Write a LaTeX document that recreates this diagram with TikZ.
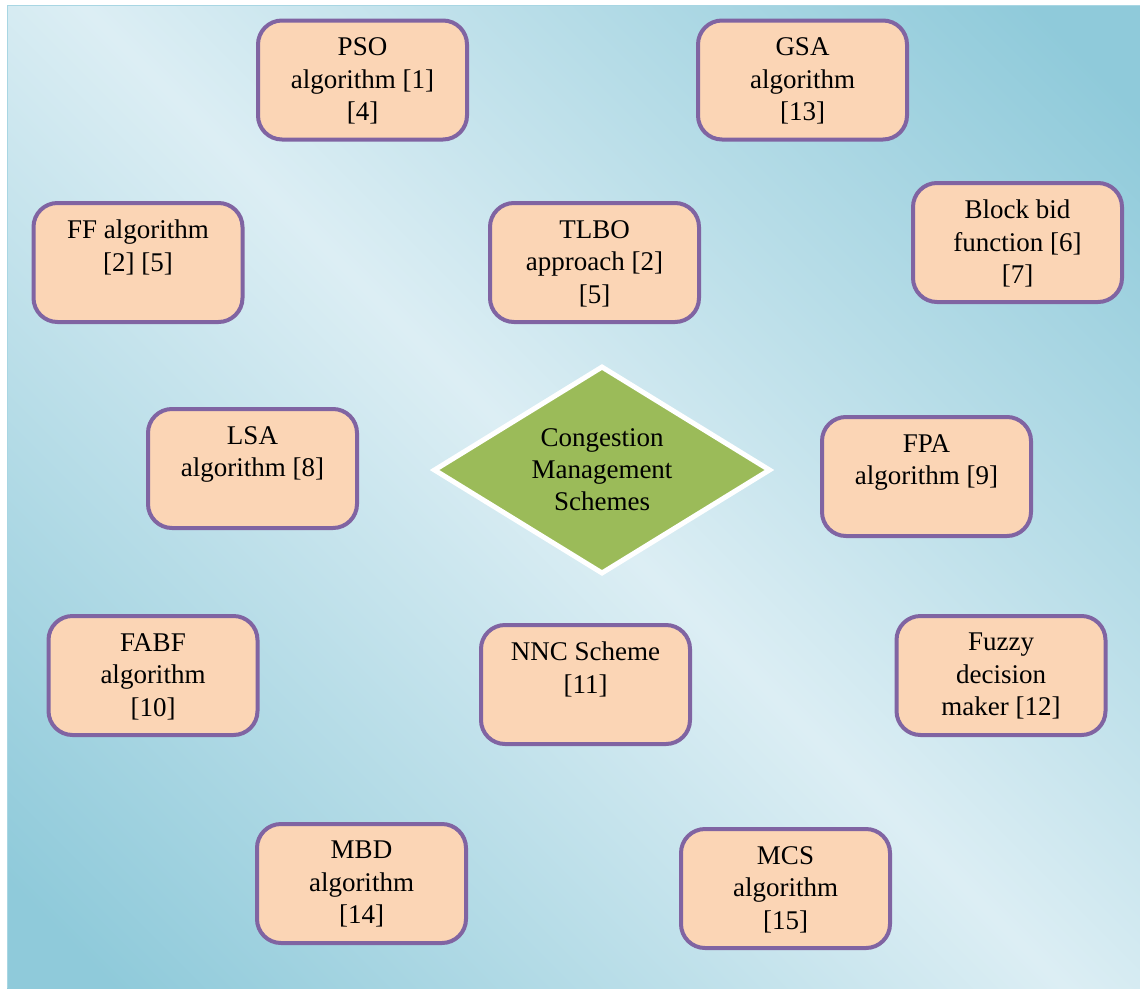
\documentclass[tikz,border=0pt]{standalone}
\usepackage{fontspec}
\setmainfont{Liberation Serif}
\usetikzlibrary{shapes.geometric}
\definecolor{bgdark}{HTML}{8FCADA}
\definecolor{bglight}{HTML}{DCEEF4}
\definecolor{bgedge}{HTML}{A8D6E3}
\definecolor{boxfill}{HTML}{FBD5B5}
\definecolor{boxline}{HTML}{8064A2}
\definecolor{dmdfill}{HTML}{9BBB59}
\pgfdeclarehorizontalshading{bgshade}{100bp}{color(0bp)=(bgdark); color(18bp)=(bgdark); color(50bp)=(bglight); color(82bp)=(bgdark); color(100bp)=(bgdark)}
\begin{document}
\begin{tikzpicture}[x=1pt,y=-1pt,
  box/.style={draw=boxline, line width=4pt, fill=boxfill, rounded corners=24pt,
    minimum width=209pt, minimum height=119pt, inner sep=0pt},
  lbl/.style={anchor=north, align=center, inner sep=0pt, text=black,
    font=\fontsize{27}{32.5}\selectfont},
  hub/.style={shape=diamond, draw=white, line width=5pt, fill=dmdfill,
    minimum width=337pt, minimum height=208pt, inner sep=0pt, shape aspect=1.62,
    align=center, font=\fontsize{27}{32}\selectfont}]
\useasboundingbox (0,0) rectangle (1140,988);
\fill[white] (0,0) rectangle (1140,988);
\shade[shading=bgshade, shading angle=45] (7,5) rectangle (1140,988);
\draw[bgedge, line width=1pt] (7.5,988) -- (7.5,5.5) -- (1140,5.5);

\node[hub] (cms) at (602,470) {Congestion\\Management\\Schemes};

\node[box] (pso) at (362.5,80) {};
\node[lbl] (psot) at ([yshift=-19pt]pso.north) {PSO\\algorithm [1]\\{}[4]};
\node[box] (gsa) at (802.5,80) {};
\node[lbl] (gsat) at ([yshift=-19pt]gsa.north) {GSA\\algorithm\\{}[13]};
\node[box] (ff) at (138,262.5) {};
\node[lbl] (fft) at ([yshift=-19pt]ff.north) {FF algorithm\\{}[2] [5]};
\node[box] (tlbo) at (594.5,262.5) {};
\node[lbl] (tlbot) at ([yshift=-19pt]tlbo.north) {TLBO\\approach [2]\\{}[5]};
\node[box] (bbf) at (1017.5,242.5) {};
\node[lbl] (bbft) at ([yshift=-19pt]bbf.north) {Block bid\\function [6]\\{}[7]};
\node[box] (lsa) at (252.5,468.5) {};
\node[lbl] (lsat) at ([yshift=-19pt]lsa.north) {LSA\\algorithm [8]};
\node[box] (fpa) at (926.5,476.5) {};
\node[lbl] (fpat) at ([yshift=-19pt]fpa.north) {FPA\\algorithm [9]};
\node[box] (fabf) at (153,675.5) {};
\node[lbl] (fabft) at ([yshift=-19pt]fabf.north) {FABF\\algorithm\\{}[10]};
\node[box] (nnc) at (585.5,684.5) {};
\node[lbl] (nnct) at ([yshift=-19pt]nnc.north) {NNC Scheme\\{}[11]};
\node[box] (fdm) at (1001,675.5) {};
\node[lbl] (fdmt) at ([yshift=-19pt]fdm.north) {Fuzzy\\decision\\maker [12]};
\node[box] (mbd) at (361.5,883.5) {};
\node[lbl] (mbdt) at ([yshift=-19pt]mbd.north) {MBD\\algorithm\\{}[14]};
\node[box] (mcs) at (785.5,888.5) {};
\node[lbl] (mcst) at ([yshift=-19pt]mcs.north) {MCS\\algorithm\\{}[15]};
\end{tikzpicture}
\end{document}
